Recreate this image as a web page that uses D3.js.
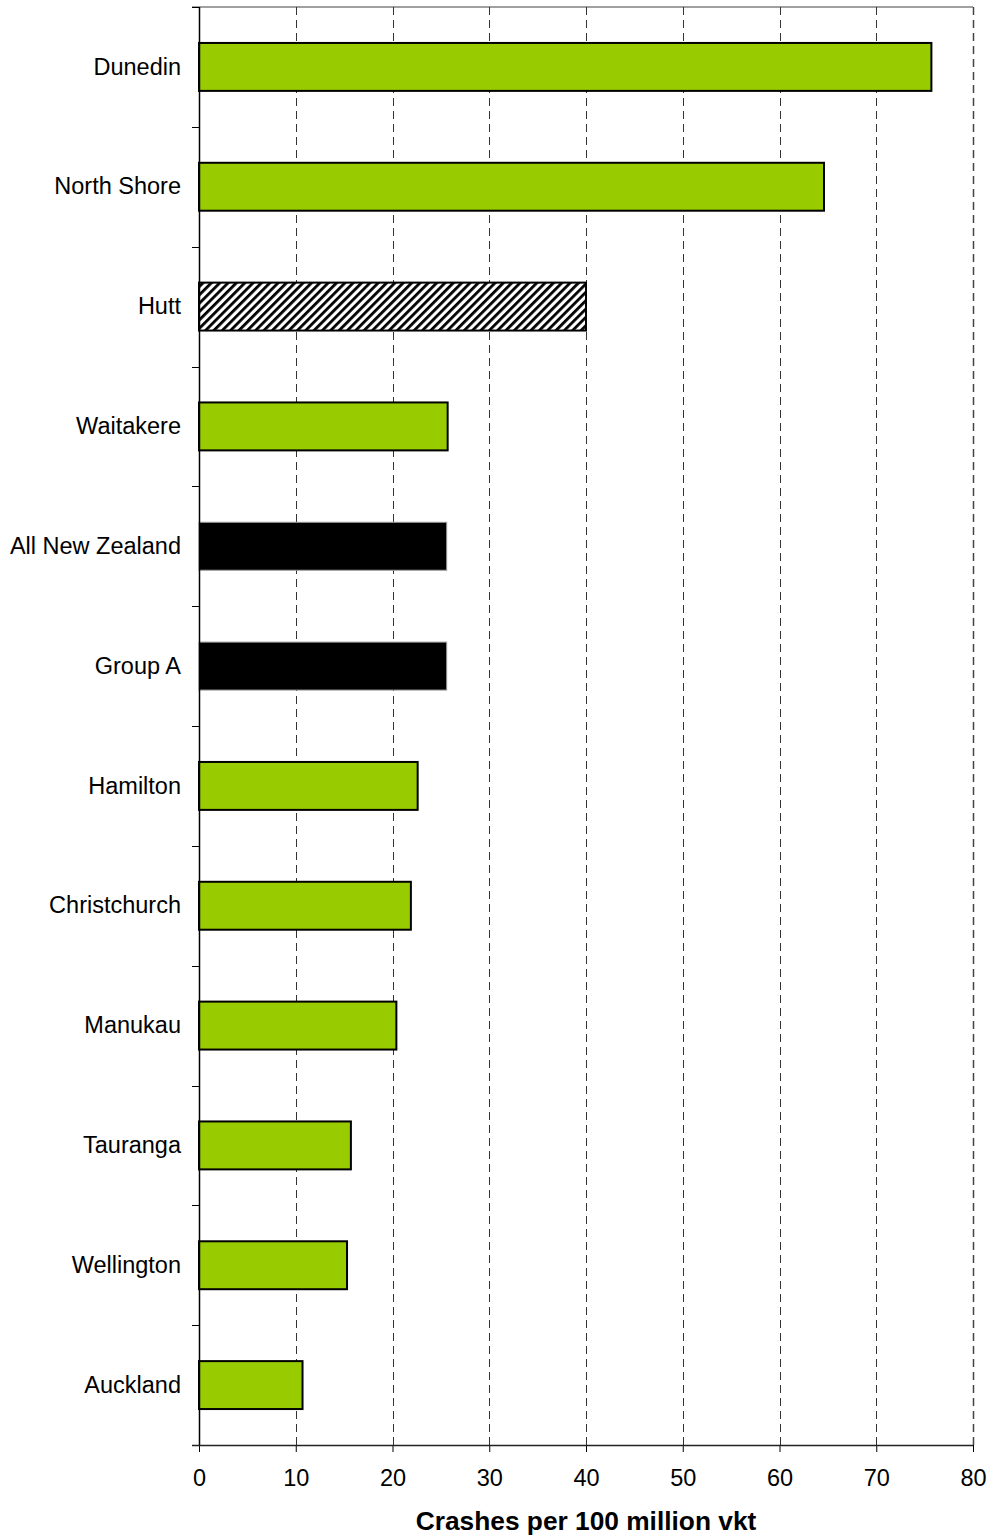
<!DOCTYPE html>
<html>
<head>
<meta charset="utf-8">
<script src="https://cdn.jsdelivr.net/npm/d3@7"></script>
<style>
  html, body { margin: 0; padding: 0; background: #fff; }
  svg { display: block; }
  text { font-family: "Liberation Sans", Arial, sans-serif; fill: #000; }
</style>
</head>
<body>
<svg id="chart" width="991" height="1537"></svg>
<script>
const categories = ["Dunedin", "North Shore", "Hutt", "Waitakere", "All New Zealand", "Group A",
  "Hamilton", "Christchurch", "Manukau", "Tauranga", "Wellington", "Auckland"];
const values = [75.7, 64.6, 40.0, 25.7, 25.6, 25.6, 22.6, 21.9, 20.4, 15.7, 15.3, 10.7];
const barTypes = ["green", "green", "hatch", "green", "black", "black",
  "green", "green", "green", "green", "green", "green"];
const xTicks = [0, 10, 20, 30, 40, 50, 60, 70, 80];
const xTitle = "Crashes per 100 million vkt";

const svg = d3.select("#chart");
const pLeft = 199, pRight = 973, pTop = 7, pBottom = 1445;

const x = d3.scaleLinear().domain([0, 80]).range([pLeft, pRight]);
const y = d3.scaleBand().domain(categories).range([pTop, pBottom]).paddingInner(0.6).paddingOuter(0.3);
const yb = d3.scaleBand().domain(categories).range([pTop, pBottom]);

// hatch pattern
const defs = svg.append("defs");
const pat = defs.append("pattern")
  .attr("id", "hatch").attr("patternUnits", "userSpaceOnUse")
  .attr("width", 5.9).attr("height", 5.9)
  .attr("patternTransform", "rotate(45)");
pat.append("rect").attr("width", 5.9).attr("height", 5.9).attr("fill", "#fff");
pat.append("rect").attr("x", 0).attr("y", 0).attr("width", 2.8).attr("height", 5.9).attr("fill", "#000");

// top border
svg.append("line").attr("x1", pLeft - 7).attr("x2", pRight).attr("y1", pTop).attr("y2", pTop)
  .attr("stroke", "#808080").attr("stroke-width", 1.5);

// gridlines
svg.append("g").selectAll("line").data(xTicks.filter(d => d > 0)).join("line")
  .attr("x1", d => Math.round(x(d)) + 0.5).attr("x2", d => Math.round(x(d)) + 0.5)
  .attr("y1", pTop).attr("y2", pBottom)
  .attr("stroke", d => d === 80 ? "#444" : "#333")
  .attr("stroke-width", d => d === 80 ? 1.5 : 1)
  .attr("stroke-dasharray", "8,5");

// bars
const fillFor = t => t === "green" ? "#99cc00" : t === "black" ? "#000" : "url(#hatch)";
svg.append("g").selectAll("rect").data(categories).join("rect")
  .attr("x", x(0))
  .attr("y", d => y(d))
  .attr("width", (d, i) => x(values[i]) - x(0))
  .attr("height", y.bandwidth())
  .attr("fill", (d, i) => fillFor(barTypes[i]))
  .attr("stroke", (d, i) => barTypes[i] === "black" ? "#999" : "#000")
  .attr("stroke-width", (d, i) => barTypes[i] === "black" ? 1 : 2);

// y axis
const yAxisG = svg.append("g").attr("transform", `translate(${pLeft},0)`);
yAxisG.append("line").attr("x1", 0.5).attr("x2", 0.5).attr("y1", pTop).attr("y2", pBottom)
  .attr("stroke", "#000").attr("stroke-width", 1.5);
const boundaries = categories.map(c => yb(c)).concat([pBottom]);
yAxisG.selectAll("line.tick").data(boundaries).join("line").attr("class", "tick")
  .attr("x1", -7).attr("x2", 0).attr("y1", d => Math.round(d) + 0.5).attr("y2", d => Math.round(d) + 0.5)
  .attr("stroke", "#000").attr("stroke-width", 1);
yAxisG.selectAll("text").data(categories).join("text")
  .attr("x", -18).attr("y", d => yb(d) + yb.bandwidth() / 2 - 0.5)
  .attr("dy", "0.35em").attr("text-anchor", "end")
  .attr("font-size", "23.5px").text(d => d);

// x axis
const xAxis = d3.axisBottom(x).tickValues(xTicks).tickSize(7).tickSizeOuter(0).tickPadding(17);
const xg = svg.append("g").attr("transform", `translate(0,${pBottom})`).call(xAxis);
xg.select(".domain").remove();
xg.append("line").attr("x1", pLeft - 7).attr("x2", pRight).attr("y1", 0.5).attr("y2", 0.5)
  .attr("stroke", "#222").attr("stroke-width", 1.5);
xg.selectAll(".tick line").attr("stroke", "#000").attr("stroke-width", 1);
xg.selectAll(".tick text").attr("font-size", "23.5px")
  .attr("font-family", "'Liberation Sans', Arial, sans-serif").attr("fill", "#000");

// x title
svg.append("text").attr("x", (pLeft + pRight) / 2).attr("y", 1530)
  .attr("text-anchor", "middle").attr("font-size", "26.3px").attr("font-weight", "bold")
  .text(xTitle);
</script>
</body>
</html>
